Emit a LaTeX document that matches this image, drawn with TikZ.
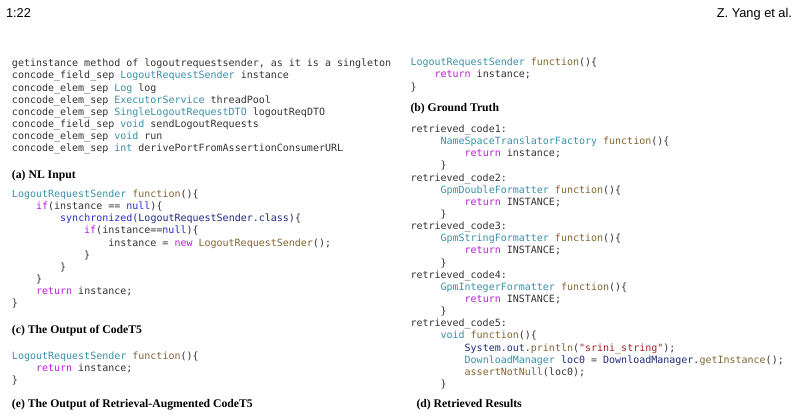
\documentclass[tikz,border=0pt]{standalone}
\usepackage{fontspec}
\setmainfont{Liberation Serif}
\setmonofont{DejaVu Sans Mono}
\newfontfamily\headfont{Liberation Sans}
\definecolor{ctext}{HTML}{333333}
\definecolor{ctype}{HTML}{3A8FA8}
\definecolor{cfunc}{HTML}{836433}
\definecolor{ckey}{HTML}{B81ED8}
\definecolor{cblue}{HTML}{2B2BD0}
\definecolor{cnavy}{HTML}{1E2A7A}
\definecolor{cstr}{HTML}{A82020}
\newcommand\T[1]{\textcolor{ctype}{#1}}
\newcommand\F[1]{\textcolor{cfunc}{#1}}
\newcommand\K[1]{\textcolor{ckey}{#1}}
\newcommand\B[1]{\textcolor{cblue}{#1}}
\newcommand\N[1]{\textcolor{cnavy}{#1}}
\newcommand\Sx[1]{\textcolor{cstr}{#1}}
\begin{document}
\begin{tikzpicture}[x=1pt,y=-1pt,
  every node/.style={inner sep=0pt, outer sep=0pt, anchor=base west},
  code/.style={font=\ttfamily\fontsize{10}{12}\selectfont, text=ctext},
  capt/.style={font=\bfseries\fontsize{11.7}{14}\selectfont, text=black},
  head/.style={font=\headfont\fontsize{12.8}{15}\selectfont, text=black}]
\useasboundingbox (0,0) rectangle (800,416);
% header
\node[head] (pg) at (6,17.5) {1:22};
\node[head, anchor=base east] (au) at (792,17.5) {Z. Yang et al.};
% (a) NL input
\node[code] (nl1) at (12,66.8) {getinstance method of logoutrequestsender, as it is a singleton};
\node[code] (nl2) at (12,78.9) {concode\_field\_sep \T{LogoutRequestSender} instance};
\node[code] (nl3) at (12,91.1) {concode\_elem\_sep \T{Log} log};
\node[code] (nl4) at (12,103.2) {concode\_elem\_sep \T{ExecutorService} threadPool};
\node[code] (nl5) at (12,115.4) {concode\_elem\_sep \T{SingleLogoutRequestDTO} logoutReqDTO};
\node[code] (nl6) at (12,127.5) {concode\_field\_sep \T{void} sendLogoutRequests};
\node[code] (nl7) at (12,139.6) {concode\_elem\_sep \T{void} run};
\node[code] (nl8) at (12,151.8) {concode\_elem\_sep \T{int} derivePortFromAssertionConsumerURL};
\node[capt] (capA) at (12,178) {(a) NL Input};
% (c) output of CodeT5
\node[code] (a1) at (12,197.5) {\T{LogoutRequestSender} \F{function}()\{};
\node[code] (a2) at (36.1,209.6) {\K{if}(instance == \B{null})\{};
\node[code] (a3) at (60.2,221.8) {\B{synchronized}\N{(LogoutRequestSender.class)}\{};
\node[code] (a4) at (84.2,233.9) {\K{if}(instance==\B{null})\{};
\node[code] (a5) at (108.3,246.1) {instance = \K{new} \F{LogoutRequestSender}();};
\node[code] (a6) at (84.2,258.2) {\}};
\node[code] (a7) at (60.2,270.3) {\}};
\node[code] (a8) at (36.1,282.5) {\}};
\node[code] (a9) at (36.1,294.6) {\K{return} instance;};
\node[code] (a10) at (12,306.8) {\}};
\node[capt] (capC) at (12,333.5) {(c) The Output of CodeT5};
% (e) output of retrieval-augmented CodeT5
\node[code] (e1) at (12,359.5) {\T{LogoutRequestSender} \F{function}()\{};
\node[code] (e2) at (36.1,371.6) {\K{return} instance;};
\node[code] (e3) at (12,383.8) {\}};
\node[capt] (capE) at (12,407.5) {(e) The Output of Retrieval-Augmented CodeT5};
% (b) ground truth
\node[code] (g1) at (410.5,65.8) {\T{LogoutRequestSender} \F{function}()\{};
\node[code] (g2) at (434.6,77.9) {\K{return} instance;};
\node[code] (g3) at (410.5,90) {\}};
\node[capt] (capB) at (410.5,111.5) {(b) Ground Truth};
% (d) retrieved results
\node[code] (r0) at (410.5,132.5) {retrieved\_code1:};
\node[code] (r1) at (440.6,144.6) {\T{NameSpaceTranslatorFactory} \F{function}()\{};
\node[code] (r2) at (464.7,156.8) {\K{return} instance;};
\node[code] (r3) at (440.6,168.9) {\}};
\node[code] (r4) at (410.5,181.1) {retrieved\_code2:};
\node[code] (r5) at (440.6,193.2) {\T{GpmDoubleFormatter} \F{function}()\{};
\node[code] (r6) at (464.7,205.3) {\K{return} INSTANCE;};
\node[code] (r7) at (440.6,217.5) {\}};
\node[code] (r8) at (410.5,229.6) {retrieved\_code3:};
\node[code] (r9) at (440.6,241.8) {\T{GpmStringFormatter} \F{function}()\{};
\node[code] (r10) at (464.7,253.9) {\K{return} INSTANCE;};
\node[code] (r11) at (440.6,266.0) {\}};
\node[code] (r12) at (410.5,278.2) {retrieved\_code4:};
\node[code] (r13) at (440.6,290.3) {\T{GpmIntegerFormatter} \F{function}()\{};
\node[code] (r14) at (464.7,302.5) {\K{return} INSTANCE;};
\node[code] (r15) at (440.6,314.6) {\}};
\node[code] (r16) at (410.5,326.7) {retrieved\_code5:};
\node[code] (r17) at (440.6,338.9) {\T{void} \F{function}()\{};
\node[code] (r18) at (464.7,351.0) {\N{System}.\N{out}.\F{println}(\Sx{"srini\_string"});};
\node[code] (r19) at (464.7,363.2) {\T{DownloadManager} \N{loc0} = \N{DownloadManager}.\F{getInstance}();};
\node[code] (r20) at (464.7,375.3) {\F{assertNotNull}(loc0);};
\node[code] (r21) at (440.6,387.4) {\}};
\node[capt] (capD) at (416.5,407.5) {(d) Retrieved Results};
\end{tikzpicture}
\end{document}
